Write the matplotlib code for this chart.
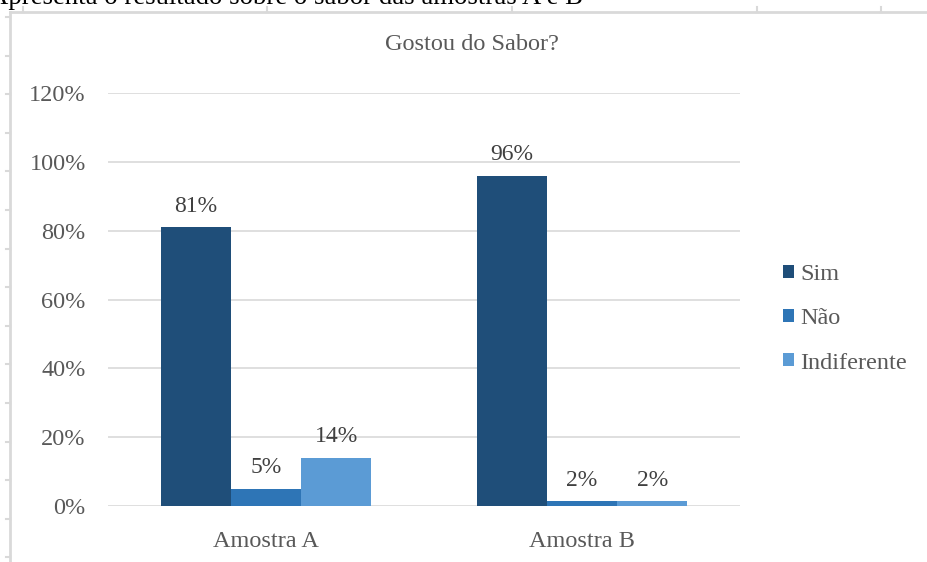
import matplotlib
matplotlib.use("Agg")
import matplotlib.pyplot as plt
from matplotlib.lines import Line2D
import numpy as np

categories = ["Amostra A", "Amostra B"]
series = ["Sim", "Não", "Indiferente"]
values = {
    "Sim": [0.81, 0.96],
    "Não": [0.05, 0.015],
    "Indiferente": [0.14, 0.015],
}
labels = {
    "Sim": ["81%", "96%"],
    "Não": ["5%", "2%"],
    "Indiferente": ["14%", "2%"],
}
yticks = [0, 0.2, 0.4, 0.6, 0.8, 1.0, 1.2]
ytick_labels = ["0%", "20%", "40%", "60%", "80%", "100%", "120%"]
colors = ["#1F4E79", "#2E75B6", "#5B9BD5"]

W, H = 928, 562
plt.rcParams['font.family'] = ['Liberation Serif', 'DejaVu Serif']
fig = plt.figure(figsize=(W / 100, H / 100), dpi=100)
fig.patch.set_facecolor("white")

def fx(px):
    return px / W

def fy(py):
    return 1 - py / H

# document fragment text at top (cut off as in the screenshot)
fig.text(fx(-11), fy(4), "Apresenta o resultado sobre o sabor das amostras A e B",
         fontsize=19.3, color="black", va="baseline", ha="left")

# chart frame border
border = "#D9D9D9"
fig.add_artist(Line2D([fx(10), fx(928)], [fy(12), fy(12)], color=border, lw=2))
fig.add_artist(Line2D([fx(10), fx(10)], [fy(12), fy(562)], color=border, lw=2))
for x in [23, 267, 512, 757, 881]:
    fig.add_artist(Line2D([fx(x), fx(x)], [fy(7), fy(12)], color=border, lw=1.5))
for y in np.arange(17, 562, 38.6):
    fig.add_artist(Line2D([fx(6), fx(10)], [fy(y), fy(y)], color=border, lw=1.5))

ax = fig.add_axes([fx(108), fy(506), fx(740) - fx(108), (506 - 93) / H])
x = np.arange(len(categories))
width = 0.222
for i, (s, c) in enumerate(zip(series, colors)):
    pos = x + (i - 1) * width
    bars = ax.bar(pos, values[s], width=width, color=c, label=s, zorder=3)
    for b, lab in zip(bars, labels[s]):
        ax.text(b.get_x() + b.get_width() / 2, b.get_height() + 0.03, lab,
                ha="center", va="bottom", fontsize=17, color="#404040")

ax.set_xlim(-0.5, 1.5)
ax.set_ylim(0, 1.2)
ax.set_yticks(yticks)
ax.set_yticklabels(ytick_labels, fontsize=17.5, color="#595959")
ax.set_xticks(x)
ax.set_xticklabels(categories, fontsize=17.5, color="#595959")
ax.tick_params(axis="both", length=0)
ax.tick_params(axis="y", pad=16)
ax.tick_params(axis="x", pad=18)
ax.grid(axis="y", color="#D9D9D9", lw=1.2, zorder=0)
for sp in ax.spines.values():
    sp.set_visible(False)

fig.text(fx(472), fy(45), "Gostou do Sabor?", fontsize=17.5, color="#595959",
         ha="center", va="center")

ax.legend(loc="center left", bbox_to_anchor=(fx(761), fy(319)),
          bbox_transform=fig.transFigure, frameon=False, fontsize=17.5,
          handlelength=0.45, handleheight=0.45, handletextpad=0.25,
          labelspacing=0.95, labelcolor="#595959")

fig.savefig("out.png", dpi=100, facecolor="white")
